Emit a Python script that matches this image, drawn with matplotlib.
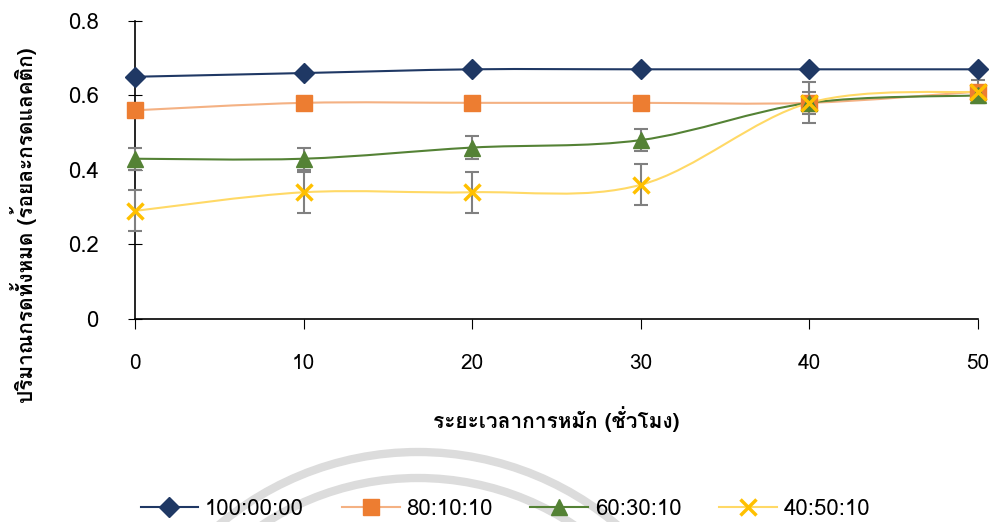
import numpy as np
import matplotlib
matplotlib.use('Agg')
import matplotlib.pyplot as plt
from matplotlib import font_manager
from matplotlib.ft2font import FT2Font
from matplotlib.path import Path
from matplotlib.patches import PathPatch, Circle
from matplotlib.lines import Line2D

# data
hours = [0, 10, 20, 30, 40, 50]
s100 = [0.65, 0.66, 0.67, 0.67, 0.67, 0.67]
s80 = [0.56, 0.58, 0.58, 0.58, 0.58, 0.61]
s60 = [0.43, 0.43, 0.46, 0.48, 0.58, 0.60]
s40 = [0.29, 0.34, 0.34, 0.36, 0.58, 0.61]
err60 = [0.03, 0.03, 0.03, 0.03, 0.03, 0.02]
err40 = [0.055, 0.055, 0.055, 0.055, 0.055, 0.03]
labels = ['100:00:00', '80:10:10', '60:30:10', '40:50:10']
xlabel = 'ระยะเวลาการหมัก (ชั่วโมง)'
ylabel = 'ปริมาณกรดทั้งหมด (ร้อยละกรดแลคติก)'

# look for an installed font that has Thai glyphs
thai_font = None
for path in sorted(font_manager.findSystemFonts()):
    try:
        if 0x0E01 in FT2Font(path).get_charmap():
            thai_font = font_manager.FontProperties(fname=path).get_name()
            font_manager.fontManager.addfont(path)
            break
    except Exception:
        pass
fams = ([thai_font] if thai_font else []) + ['DejaVu Sans']
plt.rcParams['font.family'] = fams


def smooth_path(xs, ys, t=1/6):
    # bezier segments through the points, like a spreadsheet "smoothed line"
    verts = [(xs[0], ys[0])]
    codes = [Path.MOVETO]
    n = len(xs)
    for i in range(n - 1):
        x0, y0 = xs[max(i - 1, 0)], ys[max(i - 1, 0)]
        x1, y1 = xs[i], ys[i]
        x2, y2 = xs[i + 1], ys[i + 1]
        x3, y3 = xs[min(i + 2, n - 1)], ys[min(i + 2, n - 1)]
        c1 = (x1 + (x2 - x0) * t, y1 + (y2 - y0) * t)
        c2 = (x2 - (x3 - x1) * t, y2 - (y3 - y1) * t)
        verts += [c1, c2, (x2, y2)]
        codes += [Path.CURVE4] * 3
    return Path(verts, codes)


fig = plt.figure(figsize=(9.95, 5.22), dpi=100)

# faint watermark arcs behind everything
bg = fig.add_axes([0, 0, 1, 1], zorder=-5)
bg.set_xlim(0, 995)
bg.set_ylim(522, 0)
bg.set_aspect('equal', adjustable='datalim')
bg.axis('off')
for r in [308, 282]:
    bg.add_patch(Circle((418, 760), r, fill=False, edgecolor='#DCDCDC', lw=6))

ax = fig.add_axes([0.1357, 0.389, 0.847, 0.571])
ax.patch.set_alpha(0)

series = [
    (s100, None, '#1F3864', '#1F3864', 'D', 10),
    (s80, None, '#F4B183', '#ED7D31', 's', 11),
    (s60, err60, '#548235', '#548235', '^', 11),
    (s40, err40, '#FFD966', '#FFC000', 'x', 11),
]
handles = []
for (vals, err, lc, mc, mk, ms), lab in zip(series, labels):
    ax.add_patch(PathPatch(smooth_path(hours, vals), fill=False, edgecolor=lc, lw=1.5, zorder=2))
    if err is not None:
        ax.errorbar(hours, vals, yerr=err, fmt='none', ecolor='#808080', elinewidth=1.5,
                    capsize=5, capthick=1.5, zorder=3)
    if mk == 'x':
        ax.plot(hours, vals, ls='none', marker=mk, ms=ms, mec=mc, mew=2.5, zorder=4)
    else:
        ax.plot(hours, vals, ls='none', marker=mk, ms=ms, mfc=mc, mec=mc, zorder=4)
    handles.append(Line2D([], [], color=lc, lw=1.5, marker=mk, ms=ms, mfc=mc, mec=mc,
                          mew=2.5 if mk == 'x' else 1))

ax.set_xlim(0, 50)
ax.set_ylim(0, 0.8)
ax.set_xticks(hours)
ax.set_yticks([0, 0.2, 0.4, 0.6, 0.8])
ax.set_yticklabels(['0', '0.2', '0.4', '0.6', '0.8'])
for s in ['top', 'right']:
    ax.spines[s].set_visible(False)
for s in ['left', 'bottom']:
    ax.spines[s].set_color('#000000')
    ax.spines[s].set_linewidth(1.2)
ax.tick_params(axis='y', direction='inout', length=10, labelsize=16, pad=21)
ax.tick_params(axis='x', direction='out', length=7, labelsize=15, pad=18)
ax.set_xlabel(xlabel, fontsize=15, fontweight='bold', labelpad=24)
ax.set_ylabel(ylabel, fontsize=15, fontweight='bold')
ax.yaxis.set_label_coords(-0.116, 0.315)
for child in ax.get_children():
    try:
        child.set_clip_on(False)
    except Exception:
        pass

fig.legend(handles=handles, labels=labels, loc='lower center', ncol=4, frameon=False,
           fontsize=16, bbox_to_anchor=(0.508, -0.035), handlelength=2.6, columnspacing=1.7,
           handletextpad=0.3)

fig.savefig('out.png', dpi=100)
